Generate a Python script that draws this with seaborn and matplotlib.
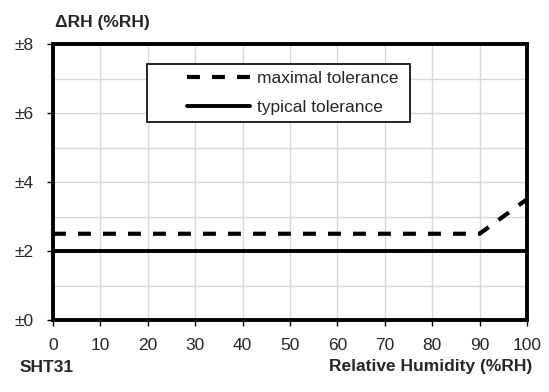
import matplotlib
matplotlib.use("Agg")
import matplotlib.pyplot as plt
import matplotlib.patches as mpatches
import seaborn as sns
import pandas as pd
from matplotlib.ticker import MultipleLocator

rh_max = [0, 90, 100]
tol_max = [2.5, 2.5, 3.5]
rh_typ = [0, 100]
tol_typ = [2.0, 2.0]
x_ticks = [0, 10, 20, 30, 40, 50, 60, 70, 80, 90, 100]
y_ticks = [0, 2, 4, 6, 8]
y_labels = ["±0", "±2", "±4", "±6", "±8"]

sns.set_theme(style="white")
plt.rcParams['font.family'] = ['Liberation Sans', 'DejaVu Sans']

W, H = 549, 392
fig = plt.figure(figsize=(W / 100, H / 100), dpi=100)
ax = fig.add_axes([53 / W, 72 / H, 474 / W, 276 / H])

df_max = pd.DataFrame({"x": rh_max, "y": tol_max})
df_typ = pd.DataFrame({"x": rh_typ, "y": tol_typ})
sns.lineplot(data=df_max, x="x", y="y", ax=ax, color="black", lw=3,
             linestyle=(0, (3.1, 2.9)), label="maximal tolerance", zorder=3)
sns.lineplot(data=df_typ, x="x", y="y", ax=ax, color="black", lw=2.8,
             label="typical tolerance", zorder=3)

ax.set_xlim(0, 100)
ax.set_ylim(0, 8)
ax.set_xticks(x_ticks)
ax.set_xticklabels([str(v) for v in x_ticks], fontsize=12.5)
ax.set_yticks(y_ticks)
ax.set_yticklabels(y_labels, fontsize=12.5)
ax.yaxis.set_minor_locator(MultipleLocator(1))
ax.grid(True, which="both", color="#d9d9d9", lw=1)
ax.set_axisbelow(True)
ax.tick_params(axis="both", which="major", direction="out", length=4, width=1,
               color="black", left=True, bottom=True)
ax.tick_params(axis="x", which="major", pad=9)
ax.tick_params(axis="y", which="major", pad=10)
ax.tick_params(which="minor", left=False)
for s in ax.spines.values():
    s.set_color("black")
    s.set_linewidth(2.8)
ax.set_xlabel("")
ax.set_ylabel("")

# legend frame
box = mpatches.Rectangle((147 / W, 1 - 122 / H), (410 - 147) / W, (122 - 64) / H,
                         transform=fig.transFigure, facecolor="white",
                         edgecolor="black", lw=1.2, zorder=4, clip_on=False)
ax.add_patch(box)
leg = ax.legend(loc="center left", bbox_to_anchor=(187 / W, 1 - 93 / H),
                bbox_transform=fig.transFigure, fontsize=12.5, frameon=False,
                handlelength=3.6, handletextpad=0.42, labelspacing=0.75,
                borderpad=0, borderaxespad=0)
leg.set_zorder(5)

fig.text(55 / W, 1 - 22 / H, "ΔRH (%RH)", fontsize=12.5, fontweight="bold",
         ha="left", va="center")
fig.text(20 / W, 1 - 367 / H, "SHT31", fontsize=12.5, fontweight="bold",
         ha="left", va="center")
fig.text(532 / W, 1 - 367 / H, "Relative Humidity (%RH)", fontsize=12.5,
         fontweight="bold", ha="right", va="center")

fig.savefig("out.png", dpi=100)
